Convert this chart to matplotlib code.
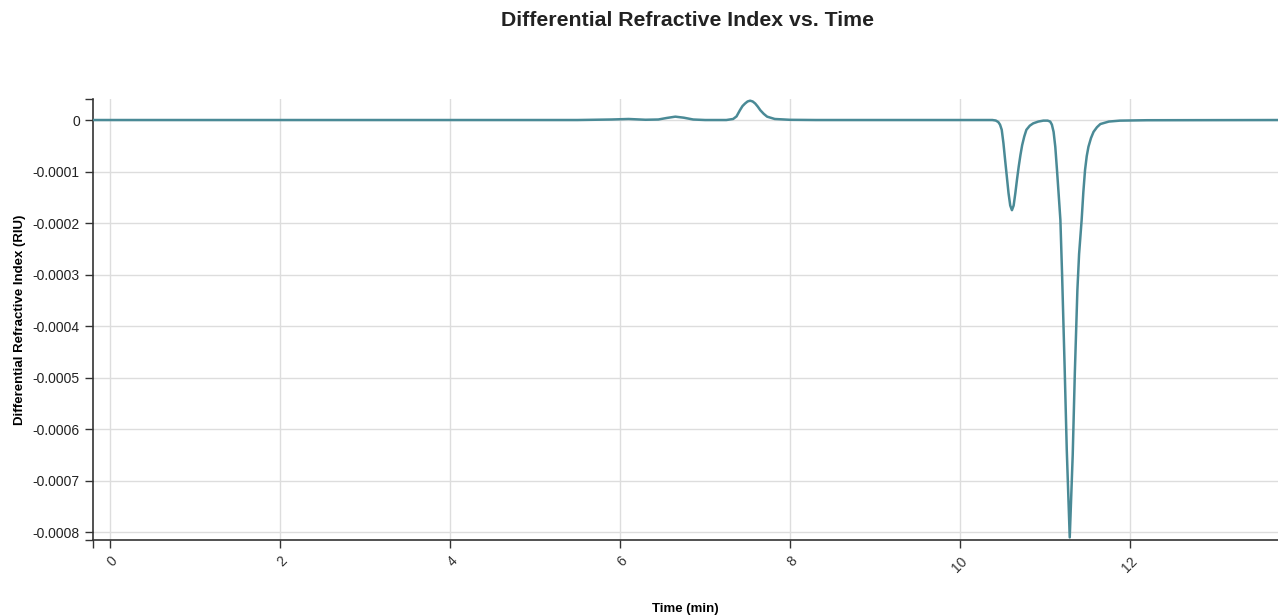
import matplotlib
matplotlib.use("Agg")
import matplotlib.pyplot as plt
from matplotlib.ticker import FixedLocator

plt.rcParams['font.family'] = ['Liberation Sans', 'DejaVu Sans']

# data (time in min, signal in 1e-4 RIU)
time_min = [-0.2, 5.5, 5.9, 6.1, 6.3, 6.45, 6.55, 6.65, 6.75, 6.86, 7.0, 7.25,
            7.33, 7.37, 7.41, 7.44, 7.47, 7.50, 7.53, 7.56, 7.59, 7.62, 7.65,
            7.69, 7.73, 7.82, 8.0, 8.3,
            10.38, 10.42, 10.45, 10.47, 10.49, 10.51, 10.53, 10.55, 10.57, 10.59,
            10.61, 10.63, 10.65, 10.67, 10.69, 10.71, 10.73, 10.755, 10.78, 10.82,
            10.86, 10.92, 10.98, 11.03, 11.06, 11.08, 11.10, 11.12, 11.14, 11.16,
            11.18, 11.20, 11.23, 11.255, 11.29, 11.325, 11.35, 11.38, 11.40, 11.43,
            11.45, 11.47, 11.49, 11.51, 11.54, 11.57, 11.61, 11.65, 11.75, 11.88,
            12.2, 13.8]
dri_e4 = [0, 0, 0.01, 0.02, 0.005, 0.01, 0.04, 0.065, 0.045, 0.01, 0.0, 0.0,
          0.02, 0.07, 0.19, 0.27, 0.32, 0.36, 0.375, 0.36, 0.32, 0.26, 0.19,
          0.12, 0.065, 0.02, 0.004, 0,
          0, -0.01, -0.04, -0.09, -0.19, -0.45, -0.78, -1.1, -1.42, -1.66,
          -1.75, -1.66, -1.42, -1.15, -0.9, -0.68, -0.49, -0.32, -0.19, -0.11,
          -0.065, -0.03, -0.012, -0.012, -0.03, -0.09, -0.23, -0.52, -0.97, -1.45,
          -1.94, -3.0, -4.8, -6.4, -8.1, -6.5, -4.9, -3.3, -2.6, -1.94,
          -1.4, -0.97, -0.7, -0.52, -0.35, -0.23, -0.14, -0.078, -0.03, -0.012,
          -0.004, 0]
dri = [v * 1e-4 for v in dri_e4]

x_ticks = [0, 2, 4, 6, 8, 10, 12]
y_ticks = [0, -0.0001, -0.0002, -0.0003, -0.0004, -0.0005, -0.0006, -0.0007, -0.0008]
y_labels = ['0', '-0.0001', '-0.0002', '-0.0003', '-0.0004', '-0.0005',
            '-0.0006', '-0.0007', '-0.0008']

fig = plt.figure(figsize=(12.78, 6.16), dpi=100)
ax = fig.add_axes([0.0728, 0.1234, 0.9272, 0.7159])

xlim = (-0.2, 13.74)
ylim = (-0.000815, 0.0000408)

ax.plot(time_min, dri, color='#4a8a96', lw=1.8, solid_joinstyle='round',
        solid_capstyle='round', zorder=3)

ax.set_xlim(*xlim)
ax.set_ylim(*ylim)
ax.set_xticks(x_ticks)
ax.set_xticklabels([str(t) for t in x_ticks], rotation=45, ha='right', va='top',
                   rotation_mode='anchor', fontsize=10, color='#333333')
ax.set_yticks(y_ticks)
ax.set_yticklabels(y_labels, fontsize=10, color='#222222')
# outer ticks at the ends of the axis lines
ax.xaxis.set_minor_locator(FixedLocator([xlim[0]]))
ax.yaxis.set_minor_locator(FixedLocator([ylim[0], ylim[1]]))
ax.tick_params(which='both', direction='out', length=6, width=1, color='#333333')
ax.tick_params(axis='x', which='major', pad=4)

ax.grid(True, color='#dddddd', lw=1, zorder=0)
ax.set_axisbelow(True)
for s in ['top', 'right']:
    ax.spines[s].set_visible(False)
for s in ['left', 'bottom']:
    ax.spines[s].set_color('#333333')
    ax.spines[s].set_linewidth(1.2)

ax.set_xlabel('Time (min)', fontsize=9.5, fontweight='bold', labelpad=20)
ax.set_ylabel('Differential Refractive Index (RIU)', fontsize=9.5, fontweight='bold',
              labelpad=5)
fig.text(0.538, 0.966, 'Differential Refractive Index vs. Time', ha='center',
         va='center', fontsize=15.3, fontweight='bold', color='#222222')

fig.savefig('out.png', dpi=100)
